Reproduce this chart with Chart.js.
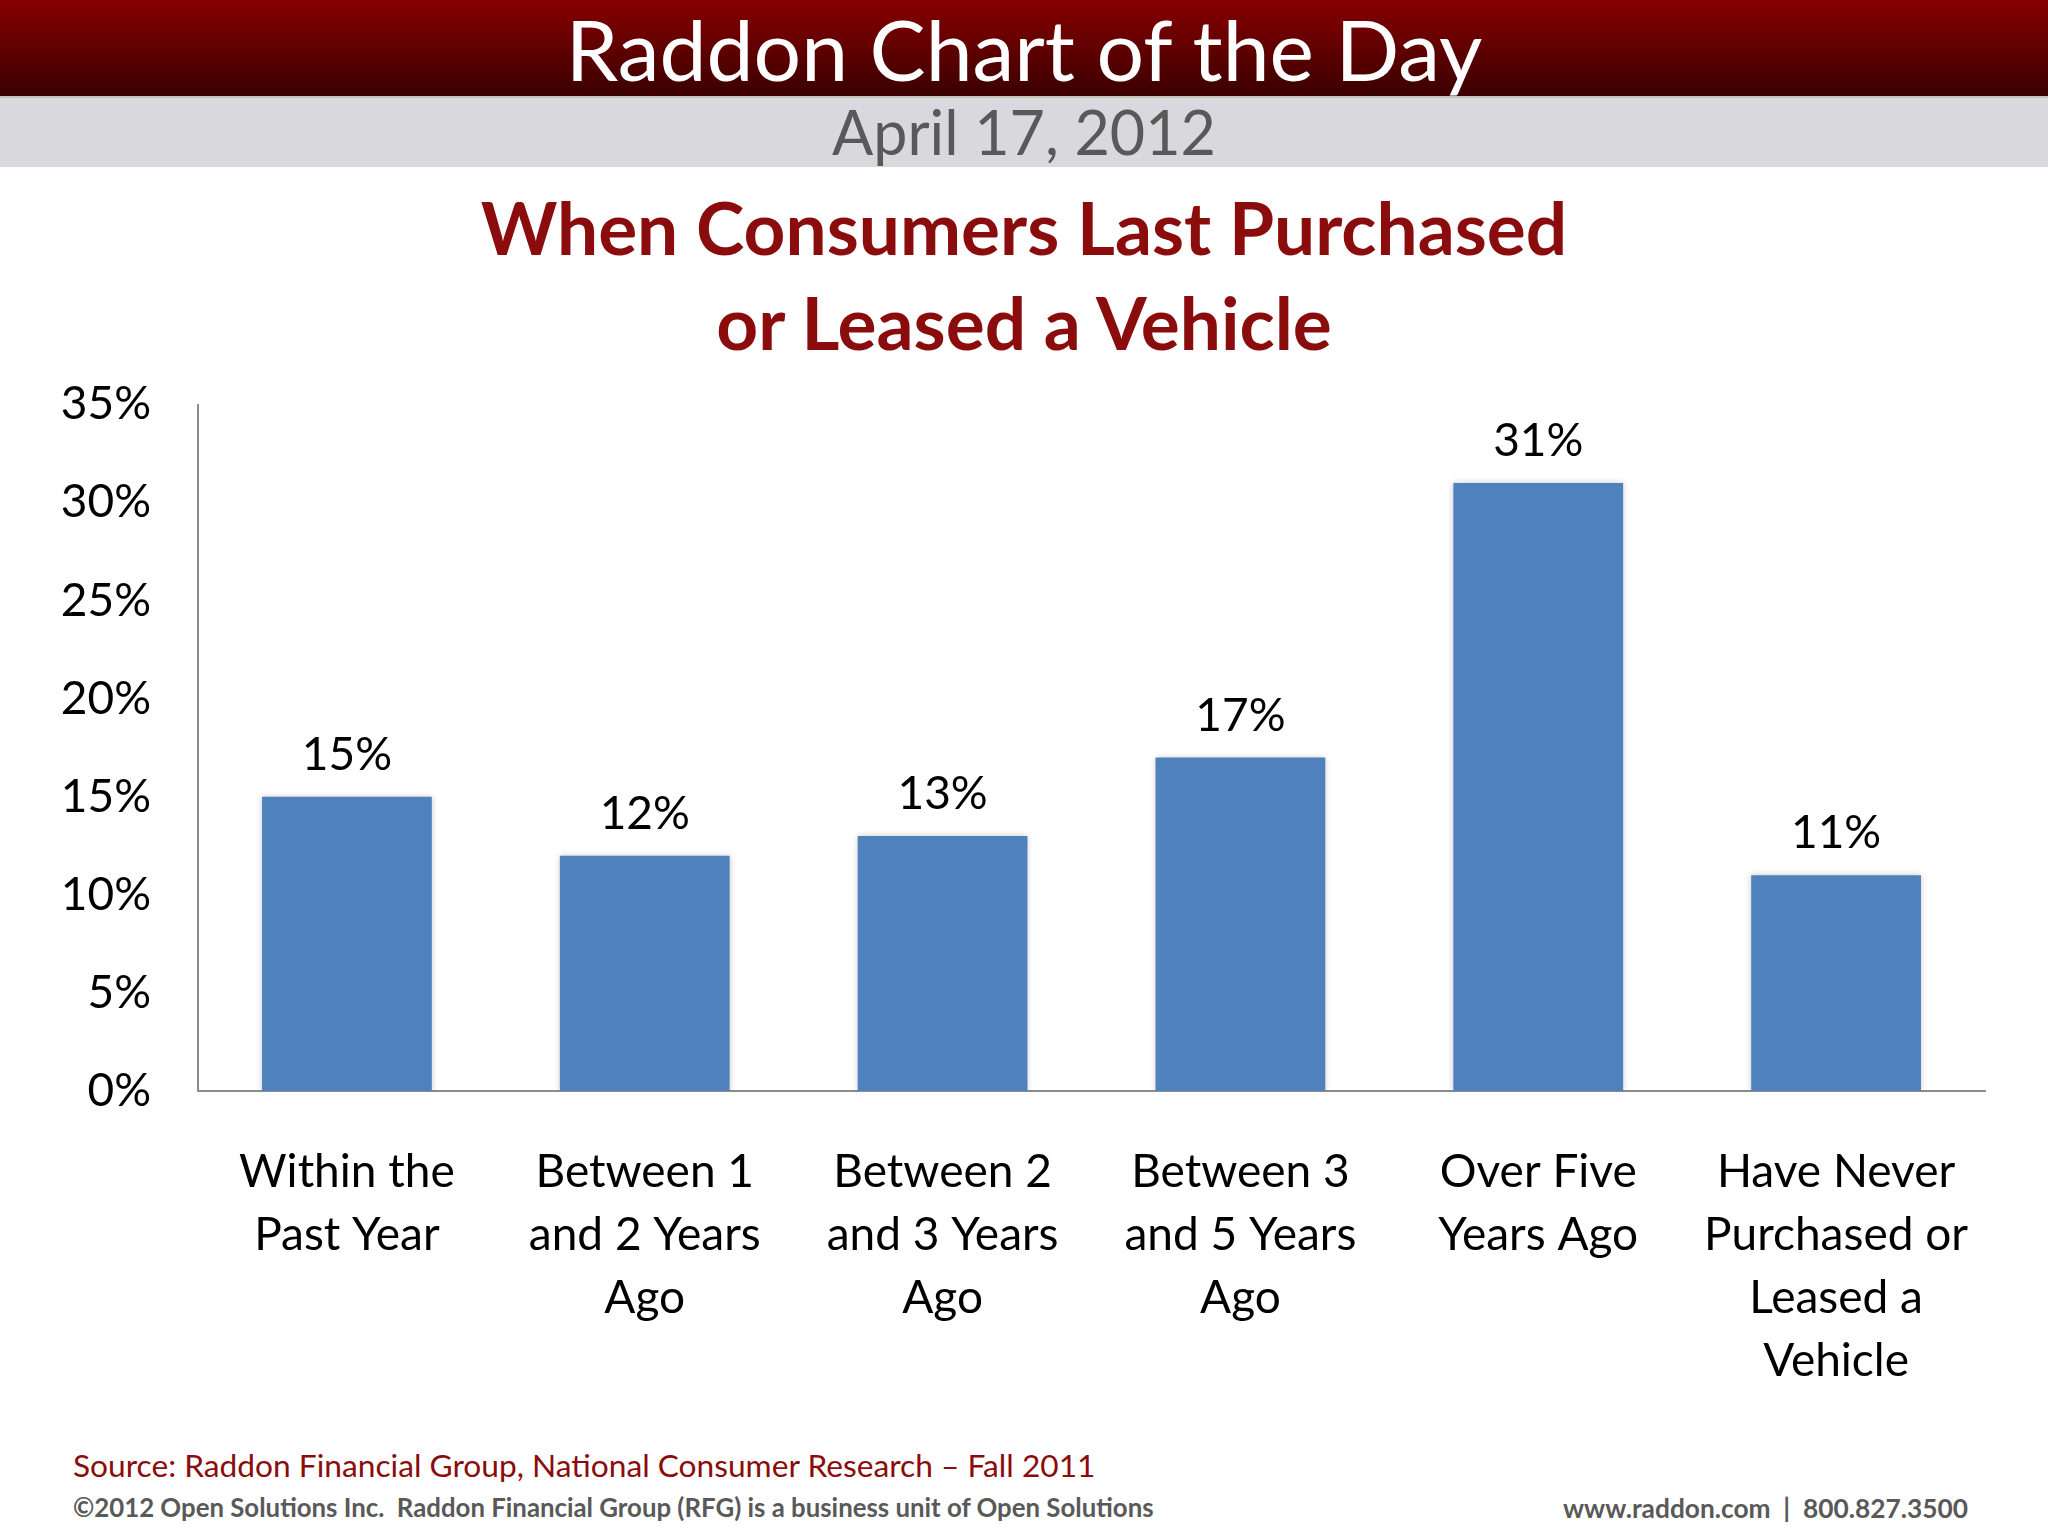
<!DOCTYPE html>
<html lang="en">

<head>
    <meta charset="UTF-8">
    <title>Raddon Chart of the Day</title>
    <script src="https://cdn.jsdelivr.net/npm/chart.js"></script>

    <style>
        body {
            margin: 0;
            width: 2048px;
            height: 1536px;
            overflow: hidden;
            background: #fff;
            font-family: Lato, "Open Sans", sans-serif;
            position: relative;
        }

        .band-red {
            position: absolute;
            left: 0; top: 0;
            width: 2048px; height: 96px;
            background: linear-gradient(#870000, #3a0000);
            border-bottom: 2px solid #c9c2ba;
        }

        .band-grey {
            position: absolute;
            left: 0; top: 98px;
            width: 2048px; height: 69px;
            background: #d9d8dc;
        }

        .txt {
            position: absolute;
            left: 0;
            width: 2048px;
            text-align: center;
            line-height: 1;
            white-space: nowrap;
        }

        #head { top: 7px; font-size: 84px; color: #fff; }
        #date { top: 101px; font-size: 61px; color: #595959; }

        #title {
            top: 180px;
            font-size: 73px;
            line-height: 95px;
            font-weight: bold;
            color: #8a0c0c;
        }

        #source {
            position: absolute; left: 73px; top: 1450px;
            font-size: 31.7px; line-height: 1; color: #8a0c0c; white-space: nowrap;
        }

        #copy {
            position: absolute; left: 73px; top: 1495px;
            font-size: 25.8px; line-height: 1; font-weight: bold; color: #595959; white-space: nowrap;
        }

        #web {
            position: absolute; right: 80px; top: 1495px;
            font-size: 26.3px; line-height: 1; font-weight: bold; color: #595959; white-space: nowrap;
        }

        #wrap {
            position: absolute;
            left: 0; top: 330px;
            width: 2048px; height: 1110px;
        }
    </style>
</head>

<body>
    <div class="band-red"></div>
    <div class="band-grey"></div>
    <div class="txt" id="head">Raddon Chart of the Day</div>
    <div class="txt" id="date">April 17, 2012</div>
    <div class="txt" id="title">When Consumers Last Purchased<br>or Leased a Vehicle</div>

    <div id="wrap"><canvas id="chart"></canvas></div>

    <div id="source">Source: Raddon Financial Group, National Consumer Research – Fall 2011</div>
    <div id="copy">©2012 Open Solutions Inc.&nbsp; Raddon Financial Group (RFG) is a business unit of Open Solutions</div>
    <div id="web">www.raddon.com&nbsp; |&nbsp; 800.827.3500</div>

    <script>
        const categories = [
            ['Within the', 'Past Year'],
            ['Between 1', 'and 2 Years', 'Ago'],
            ['Between 2', 'and 3 Years', 'Ago'],
            ['Between 3', 'and 5 Years', 'Ago'],
            ['Over Five', 'Years Ago'],
            ['Have Never', 'Purchased or', 'Leased a', 'Vehicle']
        ];
        const shares = [15, 12, 13, 17, 31, 11];
        const yTicks = [0, 5, 10, 15, 20, 25, 30, 35];

        // soft shadow round the bars
        const barShadow = {
            id: 'barShadow',
            beforeDatasetsDraw(chart) {
                const ctx = chart.ctx;
                ctx.save();
                ctx.shadowColor = 'rgba(0, 0, 0, 0.22)';
                ctx.shadowBlur = 6;
                ctx.shadowOffsetX = 0;
                ctx.shadowOffsetY = 0;
            },
            afterDatasetsDraw(chart) {
                chart.ctx.restore();
            }
        };

        // value labels above each bar
        const barLabels = {
            id: 'barLabels',
            afterDatasetsDraw(chart) {
                const ctx = chart.ctx;
                const meta = chart.getDatasetMeta(0);
                ctx.save();
                ctx.font = '46px Lato';
                ctx.fillStyle = '#000';
                ctx.textAlign = 'center';
                ctx.textBaseline = 'alphabetic';
                meta.data.forEach((bar, i) => {
                    ctx.fillText(shares[i] + '%', bar.x, bar.y - 27);
                });
                ctx.restore();
            }
        };

        const ctx = document.getElementById('chart').getContext('2d');
        new Chart(ctx, {
            type: 'bar',
            data: {
                labels: categories,
                datasets: [{
                    data: shares,
                    backgroundColor: '#4f81bd',
                    borderWidth: 0,
                    categoryPercentage: 1,
                    barPercentage: 0.57
                }]
            },
            options: {
                responsive: true,
                maintainAspectRatio: false,
                animation: false,
                devicePixelRatio: 1,
                layout: { padding: { top: 55, right: 63, left: 0, bottom: 0 } },
                plugins: {
                    legend: { display: false },
                    tooltip: { enabled: false }
                },
                scales: {
                    x: {
                        grid: { display: false, drawTicks: false },
                        border: { display: true, color: '#8c8c8c', width: 2 },
                        ticks: {
                            color: '#000',
                            font: { family: 'Lato', size: 46, lineHeight: '63px' },
                            padding: 50,
                            maxRotation: 0,
                            autoSkip: false
                        },
                        afterFit(scale) { scale.height = 349; }
                    },
                    y: {
                        min: 0,
                        max: 35,
                        grid: { display: false, drawTicks: false },
                        border: { display: true, color: '#8c8c8c', width: 2 },
                        afterBuildTicks(scale) {
                            scale.ticks = yTicks.map(v => ({ value: v }));
                        },
                        ticks: {
                            color: '#000',
                            font: { family: 'Lato', size: 46 },
                            padding: 47,
                            callback: v => v + '%'
                        },
                        afterFit(scale) { scale.width = 198; }
                    }
                }
            },
            plugins: [barShadow, barLabels]
        });
    </script>
</body>

</html>
